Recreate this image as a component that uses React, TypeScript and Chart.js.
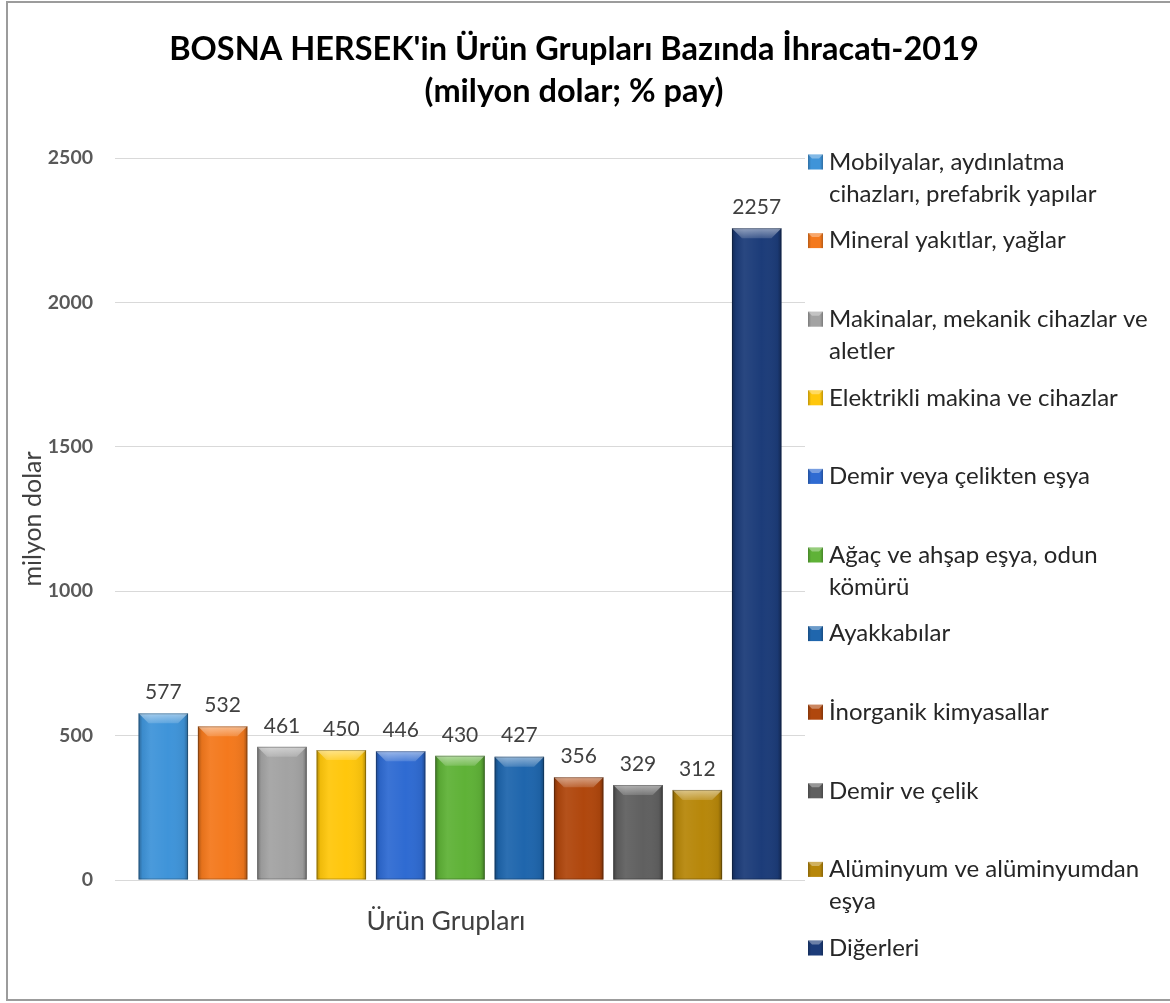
import React, { useEffect, useRef } from "react";
import { Chart, registerables } from "chart.js";

Chart.register(...registerables);

// ---- data ----
const categories = ["Ürün Grupları"];
const titleLines = ["BOSNA HERSEK'in Ürün Grupları Bazında İhracatı-2019", "(milyon dolar; % pay)"];
const yAxisTitle = "milyon dolar";
const seriesNames = [
  "Mobilyalar, aydınlatma cihazları, prefabrik yapılar",
  "Mineral yakıtlar, yağlar",
  "Makinalar, mekanik cihazlar ve aletler",
  "Elektrikli makina ve cihazlar",
  "Demir veya çelikten eşya",
  "Ağaç ve ahşap eşya, odun kömürü",
  "Ayakkabılar",
  "İnorganik kimyasallar",
  "Demir ve çelik",
  "Alüminyum ve alüminyumdan eşya",
  "Diğerleri",
];
const legendLines = [
  ["Mobilyalar, aydınlatma", "cihazları, prefabrik yapılar"],
  ["Mineral yakıtlar, yağlar"],
  ["Makinalar, mekanik cihazlar ve", "aletler"],
  ["Elektrikli makina ve cihazlar"],
  ["Demir veya çelikten eşya"],
  ["Ağaç ve ahşap eşya, odun", "kömürü"],
  ["Ayakkabılar"],
  ["İnorganik kimyasallar"],
  ["Demir ve çelik"],
  ["Alüminyum ve alüminyumdan", "eşya"],
  ["Diğerleri"],
];
const values = [577, 532, 461, 450, 446, 430, 427, 356, 329, 312, 2257];
const colors = [
  "#3F94D9", "#F4791D", "#A3A3A3", "#FFC70C", "#2F6BD2", "#5FB237",
  "#1F66AD", "#B0470D", "#606060", "#B7870A", "#1C3C79",
];
const yMin = 0;
const yMax = 2500;
const yStep = 500;

const FONT = "Lato, 'Open Sans', sans-serif";

const decorPlugin = {
  id: "decor",
  beforeDraw(chart: any) {
    const { ctx, width, height } = chart;
    ctx.save();
    ctx.fillStyle = "#ffffff";
    ctx.fillRect(0, 0, width, height);
    ctx.strokeStyle = "#9c9c9c";
    ctx.lineWidth = 2;
    ctx.strokeRect(7, 2, width + 20, height - 5);
    ctx.restore();
  },
  afterDatasetsDraw(chart: any) {
    const { ctx } = chart;
    chart.data.datasets.forEach((ds: any, di: number) => {
      const meta = chart.getDatasetMeta(di);
      meta.data.forEach((bar: any, i: number) => {
        const { x, y, base, width } = bar.getProps(["x", "y", "base", "width"], true);
        const left = x - width / 2;
        const right = x + width / 2;
        const top = Math.min(y, base);
        const h = Math.abs(base - y);
        ctx.save();
        // horizontal shading
        const g = ctx.createLinearGradient(left, 0, right, 0);
        g.addColorStop(0, "rgba(0,0,0,0.30)");
        g.addColorStop(0.08, "rgba(0,0,0,0.06)");
        g.addColorStop(0.25, "rgba(255,255,255,0.06)");
        g.addColorStop(0.6, "rgba(255,255,255,0)");
        g.addColorStop(0.92, "rgba(0,0,0,0.06)");
        g.addColorStop(1, "rgba(0,0,0,0.32)");
        ctx.fillStyle = g;
        ctx.fillRect(left, top, width, h);
        // top bevel
        const bev = Math.min(10, h / 2);
        const gv = ctx.createLinearGradient(0, top, 0, top + bev);
        gv.addColorStop(0, "rgba(255,255,255,0.5)");
        gv.addColorStop(1, "rgba(255,255,255,0.15)");
        ctx.fillStyle = gv;
        ctx.beginPath();
        ctx.moveTo(left, top);
        ctx.lineTo(right, top);
        ctx.lineTo(right - bev, top + bev);
        ctx.lineTo(left + bev, top + bev);
        ctx.closePath();
        ctx.fill();
        // outline
        ctx.strokeStyle = "rgba(0,0,0,0.25)";
        ctx.lineWidth = 1;
        ctx.strokeRect(left + 0.5, top + 0.5, width - 1, h - 1);
        // value label
        ctx.fillStyle = "#404040";
        ctx.font = `21px ${FONT}`;
        ctx.textAlign = "center";
        ctx.textBaseline = "middle";
        ctx.fillText(String(ds.data[i]), x, top - 21);
        ctx.restore();
      });
    });
  },
  afterDraw(chart: any) {
    const { ctx, chartArea } = chart;
    ctx.save();
    const boxX = chartArea.right + 3;
    const textX = chartArea.right + 24;
    const y0 = chartArea.top + 4;
    const step = 78.6;
    const lineH = 32;
    legendLines.forEach((lines, i) => {
      const cy = y0 + i * step;
      const col = colors[i];
      ctx.fillStyle = col;
      ctx.fillRect(boxX, cy - 7.5, 15, 15);
      const g = ctx.createLinearGradient(boxX, 0, boxX + 15, 0);
      g.addColorStop(0, "rgba(0,0,0,0.25)");
      g.addColorStop(0.2, "rgba(0,0,0,0)");
      g.addColorStop(0.8, "rgba(0,0,0,0)");
      g.addColorStop(1, "rgba(0,0,0,0.25)");
      ctx.fillStyle = g;
      ctx.fillRect(boxX, cy - 7.5, 15, 15);
      ctx.fillStyle = "rgba(255,255,255,0.35)";
      ctx.beginPath();
      ctx.moveTo(boxX, cy - 7.5);
      ctx.lineTo(boxX + 15, cy - 7.5);
      ctx.lineTo(boxX + 11, cy - 3.5);
      ctx.lineTo(boxX + 4, cy - 3.5);
      ctx.closePath();
      ctx.fill();
      ctx.fillStyle = "#262626";
      ctx.font = `24px ${FONT}`;
      ctx.textAlign = "left";
      ctx.textBaseline = "middle";
      lines.forEach((t, k) => ctx.fillText(t, textX, cy + k * lineH));
    });
    ctx.restore();
  },
};

export default function App() {
  const ref = useRef<HTMLCanvasElement | null>(null);
  useEffect(() => {
    document.body.style.margin = "0";
    document.body.style.overflow = "hidden";
    const canvas = ref.current;
    if (!canvas) return;
    const chart = new Chart(canvas, {
      type: "bar",
      data: {
        labels: categories,
        datasets: seriesNames.map((name, i) => ({
          label: name,
          data: [values[i]],
          backgroundColor: colors[i],
          borderWidth: 0,
          categoryPercentage: 0.946,
          barPercentage: 0.834,
        })),
      },
      options: {
        responsive: false,
        animation: false,
        devicePixelRatio: 1,
        layout: { padding: { left: 0, right: 22, top: 0, bottom: 0 } },
        plugins: {
          legend: { display: false },
          tooltip: { enabled: false },
          title: {
            display: true,
            text: titleLines,
            color: "#000000",
            font: { family: FONT, size: 32.5, weight: "bold", lineHeight: 42 / 32.5 },
            padding: { top: 29, bottom: 45 },
          },
        },
        scales: {
          x: {
            grid: { display: false, drawTicks: false },
            border: { display: false },
            ticks: {
              color: "#404040",
              font: { family: FONT, size: 26.5 },
              padding: 26,
              labelOffset: -14,
            },
            afterFit: (s: any) => { s.height = 123; },
          },
          y: {
            min: yMin,
            max: yMax,
            ticks: {
              stepSize: yStep,
              color: "#595959",
              font: { family: FONT, size: 19.5, weight: "bold" },
              padding: 22,
              callback: (v: any) => String(v),
            },
            grid: { color: "#d9d9d9", lineWidth: 1, drawTicks: false },
            border: { display: false },
            title: {
              display: true,
              text: yAxisTitle,
              color: "#404040",
              font: { family: FONT, size: 25 },
              padding: { top: 18, bottom: 0 },
            },
            afterFit: (s: any) => { s.width = 115; },
          },
          yPad: {
            type: "linear",
            position: "right",
            display: true,
            grid: { display: false },
            border: { display: false },
            ticks: { display: false },
            afterFit: (s: any) => { s.width = 343; },
          },
        },
      },
      plugins: [decorPlugin],
    });
    return () => chart.destroy();
  }, []);
  return (
    <div style={{ width: 1170, height: 1003, position: "relative" }}>
      <canvas ref={ref} width={1170} height={1003} style={{ display: "block", width: 1170, height: 1003 }} />
    </div>
  );
}
